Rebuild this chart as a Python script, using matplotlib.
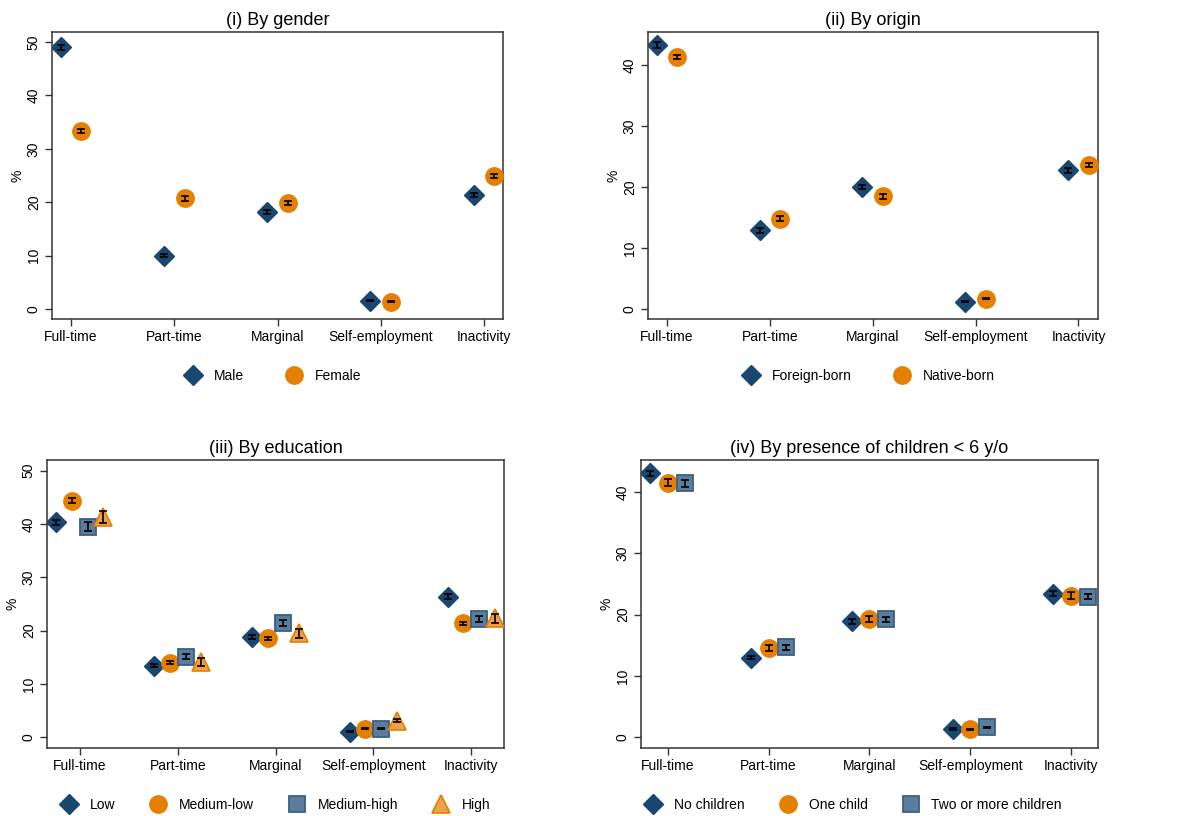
import matplotlib
matplotlib.use("Agg")
from matplotlib import pyplot as plt
from matplotlib.lines import Line2D
import numpy as np

plt.rcParams['font.family'] = ['Liberation Sans', 'DejaVu Sans']

categories = ["Full-time", "Part-time", "Marginal", "Self-employment", "Inactivity"]

# (i) gender
male = [49.0, 10.0, 18.1, 1.5, 21.4]
male_err = [0.4, 0.3, 0.4, 0.1, 0.4]
female = [33.3, 20.7, 19.8, 1.3, 24.9]
female_err = [0.4, 0.4, 0.4, 0.1, 0.4]

# (ii) origin
foreign = [43.3, 12.9, 20.0, 1.2, 22.7]
foreign_err = [0.5, 0.4, 0.4, 0.1, 0.4]
native = [41.3, 14.8, 18.5, 1.7, 23.6]
native_err = [0.4, 0.4, 0.4, 0.1, 0.4]

# (iii) education
edu_low = [40.3, 13.4, 18.8, 1.05, 26.4]
edu_low_err = [0.4, 0.3, 0.4, 0.1, 0.4]
edu_medlow = [44.4, 14.0, 18.6, 1.6, 21.4]
edu_medlow_err = [0.4, 0.3, 0.3, 0.1, 0.3]
edu_medhigh = [39.5, 15.1, 21.4, 1.6, 22.2]
edu_medhigh_err = [0.8, 0.5, 0.6, 0.1, 0.6]
edu_high = [41.25, 14.1, 19.5, 3.1, 22.3]
edu_high_err = [1.1, 0.8, 0.8, 0.3, 0.8]

# (iv) children < 6
no_child = [43.0, 13.0, 18.9, 1.35, 23.4]
no_child_err = [0.4, 0.3, 0.4, 0.1, 0.4]
one_child = [41.5, 14.5, 19.3, 1.3, 23.1]
one_child_err = [0.6, 0.5, 0.5, 0.1, 0.5]
two_child = [41.4, 14.7, 19.2, 1.6, 22.9]
two_child_err = [0.6, 0.4, 0.4, 0.1, 0.4]

NAVY = '#1a476f'
ORANGE = '#e57f00'
SQ_FILL = '#5a7d9e'
SQ_EDGE = '#3d5f80'
TRI_FILL = '#eea04a'

styles = {
    'diamond': dict(marker='D', ms=10, mfc=NAVY, mec=NAVY),
    'circle': dict(marker='o', ms=12.5, mfc=ORANGE, mec=ORANGE),
    'square': dict(marker='s', ms=12, mfc=SQ_FILL, mec=SQ_EDGE, mew=1.3),
    'triangle': dict(marker='^', ms=13, mfc=TRI_FILL, mec=ORANGE, mew=1.2),
}

W, H = 1183, 816
fig = plt.figure(figsize=(W / 100, H / 100), dpi=100)


def px_rect(l, t, r, b):
    return [l / W, 1 - b / H, (r - l) / W, (b - t) / H]


def panel(rect, title, series, offsets, xlim, ylim, yticks, leg_pos, colsp):
    ax = fig.add_axes(px_rect(*rect))
    x = np.arange(len(categories))
    handles = []
    for (vals, errs, style, label), off in zip(series, offsets):
        st = styles[style]
        ax.plot(x + off, vals, linestyle='none', zorder=3, **st)
        ax.errorbar(x + off, vals, yerr=errs, fmt='none', ecolor='black',
                    elinewidth=1.2, capsize=2.6, capthick=1.2, zorder=4)
        handles.append(Line2D([], [], linestyle='none', label=label, **st))
    ax.set_xlim(*xlim)
    ax.set_ylim(*ylim)
    ax.set_xticks(x)
    ax.set_xticklabels(categories, fontsize=10)
    ax.set_yticks(yticks)
    ax.set_yticklabels([str(v) for v in yticks], fontsize=10, rotation=90, va='center')
    ax.tick_params(axis='both', length=5, width=1, color='#333333', pad=3)
    for sp in ax.spines.values():
        sp.set_color('#333333')
        sp.set_linewidth(1.1)
    ax.set_ylabel('%', fontsize=10, labelpad=2)
    ax.set_title(title, fontsize=13, pad=5)
    ax.legend(handles=handles, loc='center', bbox_to_anchor=leg_pos,
              ncol=len(handles), frameon=False, fontsize=10,
              handlelength=1.2, handletextpad=0.9, columnspacing=colsp)
    return ax


panel((52, 32, 503, 319), "(i) By gender",
      [(male, male_err, 'diamond', 'Male'),
       (female, female_err, 'circle', 'Female')],
      [-0.1, 0.1], (-0.185, 4.185), (-1.9, 51.9), [0, 10, 20, 30, 40, 50],
      (0.49, -0.199), 3.0)

panel((648, 32, 1098, 319), "(ii) By origin",
      [(foreign, foreign_err, 'diamond', 'Foreign-born'),
       (native, native_err, 'circle', 'Native-born')],
      [-0.1, 0.1], (-0.185, 4.19), (-1.64, 45.4), [0, 10, 20, 30, 40],
      (0.49, -0.199), 3.0)

panel((47, 460, 504, 748), "(iii) By education",
      [(edu_low, edu_low_err, 'diamond', 'Low'),
       (edu_medlow, edu_medlow_err, 'circle', 'Medium-low'),
       (edu_medhigh, edu_medhigh_err, 'square', 'Medium-high'),
       (edu_high, edu_high_err, 'triangle', 'High')],
      [-0.24, -0.08, 0.08, 0.24], (-0.337, 4.337), (-2.0, 52.0),
      [0, 10, 20, 30, 40, 50], (0.5, -0.198), 2.5)

panel((641, 460, 1098, 748), "(iv) By presence of children < 6 y/o",
      [(no_child, no_child_err, 'diamond', 'No children'),
       (one_child, one_child_err, 'circle', 'One child'),
       (two_child, two_child_err, 'square', 'Two or more children')],
      [-0.175, 0.0, 0.17], (-0.265, 4.268), (-1.75, 45.2), [0, 10, 20, 30, 40],
      (0.465, -0.198), 2.5)

fig.savefig("out.png", dpi=100, facecolor='white')
